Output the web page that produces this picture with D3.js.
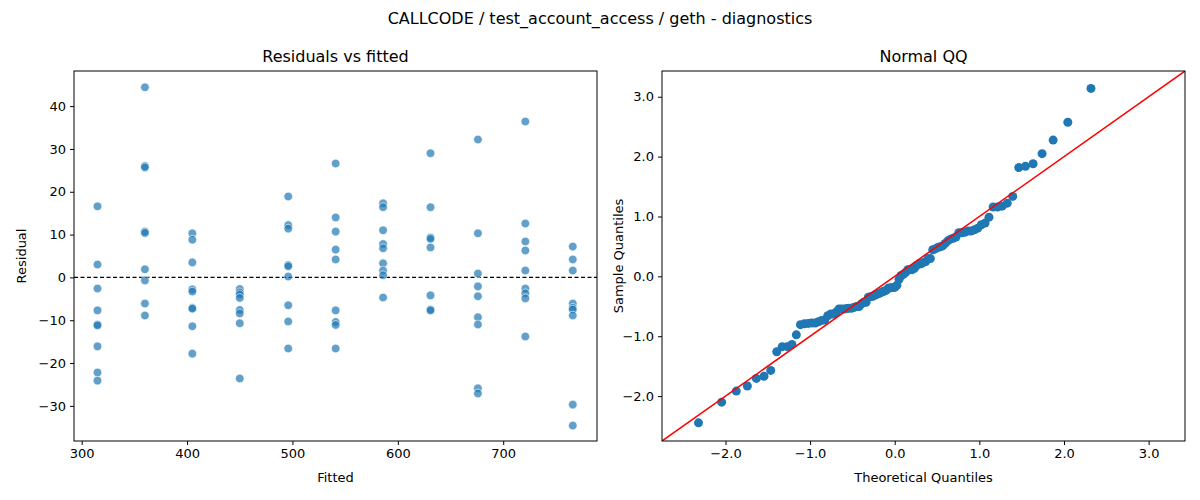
<!DOCTYPE html>
<html>
<head>
<meta charset="utf-8">
<script src="https://cdn.jsdelivr.net/npm/d3@7.9.0/dist/d3.min.js"></script>
<style>
  body { margin: 0; background: #fff; }
  text { font-family: "DejaVu Sans", sans-serif; fill: #000; }
</style>
</head>
<body>
<svg id="chart" width="1200" height="500"></svg>
<script>
// fitted level per group
const fittedLevels = [315, 360, 405, 450, 496, 541, 586, 631, 676, 721, 766];
// residuals read per fitted level
const residualGroups = [
  [16.6, 3.0, -2.6, -7.7, -11.0, -11.2, -16.1, -22.2, -24.1],
  [44.4, 26.0, 25.7, 10.7, 10.4, 1.9, -0.7, -6.1, -8.9],
  [10.3, 8.8, 3.5, -2.8, -3.3, -7.1, -7.3, -11.4, -17.8],
  [-2.7, -3.5, -4.0, -4.8, -7.6, -8.4, -10.7, -23.6],
  [18.9, 12.2, 11.4, 2.9, 2.6, 0.2, -6.5, -10.3, -16.6],
  [26.6, 14.0, 10.7, 6.5, 4.2, -7.7, -10.4, -11.1, -16.6],
  [17.3, 16.4, 11.0, 7.8, 6.8, 3.3, 1.6, 0.5, -4.7],
  [29.0, 16.4, 9.3, 9.0, 7.0, -4.2, -7.5, -7.7],
  [32.2, 10.3, 0.9, -2.1, -4.4, -9.3, -11.0, -25.9, -27.1],
  [36.4, 12.6, 8.4, 6.3, 1.6, -2.6, -3.7, -4.9, -13.8],
  [7.2, 4.2, 1.6, -6.1, -7.1, -7.5, -8.9, -29.7, -34.6]
];
const residTicks = [-30, -20, -10, 0, 10, 20, 30, 40];
const fittedTicks = [300, 400, 500, 600, 700];
const qqTicks = [-2, -1, 0, 1, 2, 3];

const points = [];
fittedLevels.forEach((f, i) => residualGroups[i].forEach(r => points.push({ f, r })));

const svg = d3.select('#chart');
const blue = '#1f77b4';

svg.append('text').attr('x', 600).attr('y', 24).attr('text-anchor', 'middle')
  .style('font-size', '16px').text('CALLCODE / test_account_access / geth - diagnostics');

function frame(g, x0, y0, w, h, title) {
  g.append('text').attr('x', x0 + w / 2).attr('y', y0 - 9).attr('text-anchor', 'middle')
    .style('font-size', '16px').text(title);
}

// ---- Residuals vs fitted
const L = { x: 74, y: 71, w: 523, h: 370 };
const x1 = d3.scaleLinear().domain([292.7, 789]).range([L.x, L.x + L.w]);
const y1 = d3.scaleLinear().domain([-38.2, 48.2]).range([L.y + L.h, L.y]);
const g1 = svg.append('g');
frame(g1, L.x, L.y, L.w, L.h, 'Residuals vs fitted');

g1.append('line').attr('x1', L.x).attr('x2', L.x + L.w).attr('y1', y1(0)).attr('y2', y1(0))
  .attr('stroke', '#000').attr('stroke-dasharray', '4,2.5').attr('stroke-width', 1.1);
g1.selectAll('circle').data(points).join('circle')
  .attr('cx', d => x1(d.f)).attr('cy', d => y1(d.r)).attr('r', 4.3)
  .attr('fill', blue).attr('fill-opacity', 0.7).attr('stroke', '#fff').attr('stroke-width', 0.6);

g1.append('g').attr('transform', `translate(0,${L.y + L.h})`)
  .call(d3.axisBottom(x1).tickValues(fittedTicks).tickSize(4).tickPadding(4));
g1.append('g').attr('transform', `translate(${L.x},0)`)
  .call(d3.axisLeft(y1).tickValues(residTicks).tickSize(4).tickPadding(4));
g1.append('rect').attr('x', L.x).attr('y', L.y).attr('width', L.w).attr('height', L.h)
  .attr('fill', 'none').attr('stroke', '#000');
g1.append('text').attr('x', L.x + L.w / 2).attr('y', 482).attr('text-anchor', 'middle')
  .style('font-size', '13px').text('Fitted');
g1.append('text').attr('transform', `translate(26,${L.y + L.h / 2}) rotate(-90)`)
  .attr('text-anchor', 'middle').style('font-size', '13px').text('Residual');

// ---- Normal QQ
function invNorm(p) {
  const a = [-39.6968302866538, 220.946098424521, -275.928510446969, 138.357751867269, -30.6647980661472, 2.50662827745924];
  const b = [-54.4760987982241, 161.585836858041, -155.698979859887, 66.8013118877197, -13.2806815528857];
  const c = [-0.00778489400243029, -0.322396458041136, -2.40075827716184, -2.54973253934373, 4.37466414146497, 2.93816398269878];
  const d = [0.00778469570904146, 0.32246712907004, 2.445134137143, 3.75440866190742];
  const pl = 0.02425;
  let q, r;
  if (p < pl) { q = Math.sqrt(-2 * Math.log(p));
    return (((((c[0]*q+c[1])*q+c[2])*q+c[3])*q+c[4])*q+c[5]) / ((((d[0]*q+d[1])*q+d[2])*q+d[3])*q+1); }
  if (p > 1 - pl) { q = Math.sqrt(-2 * Math.log(1 - p));
    return -(((((c[0]*q+c[1])*q+c[2])*q+c[3])*q+c[4])*q+c[5]) / ((((d[0]*q+d[1])*q+d[2])*q+d[3])*q+1); }
  q = p - 0.5; r = q * q;
  return (((((a[0]*r+a[1])*r+a[2])*r+a[3])*r+a[4])*r+a[5])*q / (((((b[0]*r+b[1])*r+b[2])*r+b[3])*r+b[4])*r+1);
}
const res = points.map(p => p.r);
const mean = d3.mean(res), sd = d3.deviation(res);
const sorted = res.map(v => (v - mean) / sd).sort(d3.ascending);
const n = sorted.length;
const qq = sorted.map((s, i) => ({ t: invNorm((i + 1) / (n + 1)), s }));

const R = { x: 662, y: 71, w: 523, h: 370 };
const x2 = d3.scaleLinear().domain([-2.75, 3.43]).range([R.x, R.x + R.w]);
const y2 = d3.scaleLinear().domain([-2.75, 3.43]).range([R.y + R.h, R.y]);
const g2 = svg.append('g');
frame(g2, R.x, R.y, R.w, R.h, 'Normal QQ');

g2.append('defs').append('clipPath').attr('id', 'clipR').append('rect')
  .attr('x', R.x).attr('y', R.y).attr('width', R.w).attr('height', R.h);
g2.selectAll('circle').data(qq).join('circle')
  .attr('cx', d => x2(d.t)).attr('cy', d => y2(d.s)).attr('r', 4.5).attr('fill', blue);
g2.append('line').attr('clip-path', 'url(#clipR)')
  .attr('x1', x2(-2.75)).attr('y1', y2(-2.75)).attr('x2', x2(3.43)).attr('y2', y2(3.43))
  .attr('stroke', 'red').attr('stroke-width', 1.5);

g2.append('g').attr('transform', `translate(0,${R.y + R.h})`)
  .call(d3.axisBottom(x2).tickValues(qqTicks).tickSize(4).tickPadding(4));
g2.append('g').attr('transform', `translate(${R.x},0)`)
  .call(d3.axisLeft(y2).tickValues(qqTicks).tickSize(4).tickPadding(4));
g2.append('rect').attr('x', R.x).attr('y', R.y).attr('width', R.w).attr('height', R.h)
  .attr('fill', 'none').attr('stroke', '#000');
g2.append('text').attr('x', R.x + R.w / 2).attr('y', 482).attr('text-anchor', 'middle')
  .style('font-size', '13px').text('Theoretical Quantiles');
g2.append('text').attr('transform', `translate(623,${R.y + R.h / 2}) rotate(-90)`)
  .attr('text-anchor', 'middle').style('font-size', '13px').text('Sample Quantiles');

svg.selectAll('.tick text').style('font-size', '13px').style('font-family', '"DejaVu Sans", sans-serif');
svg.selectAll('.domain').remove();
</script>
</body>
</html>
